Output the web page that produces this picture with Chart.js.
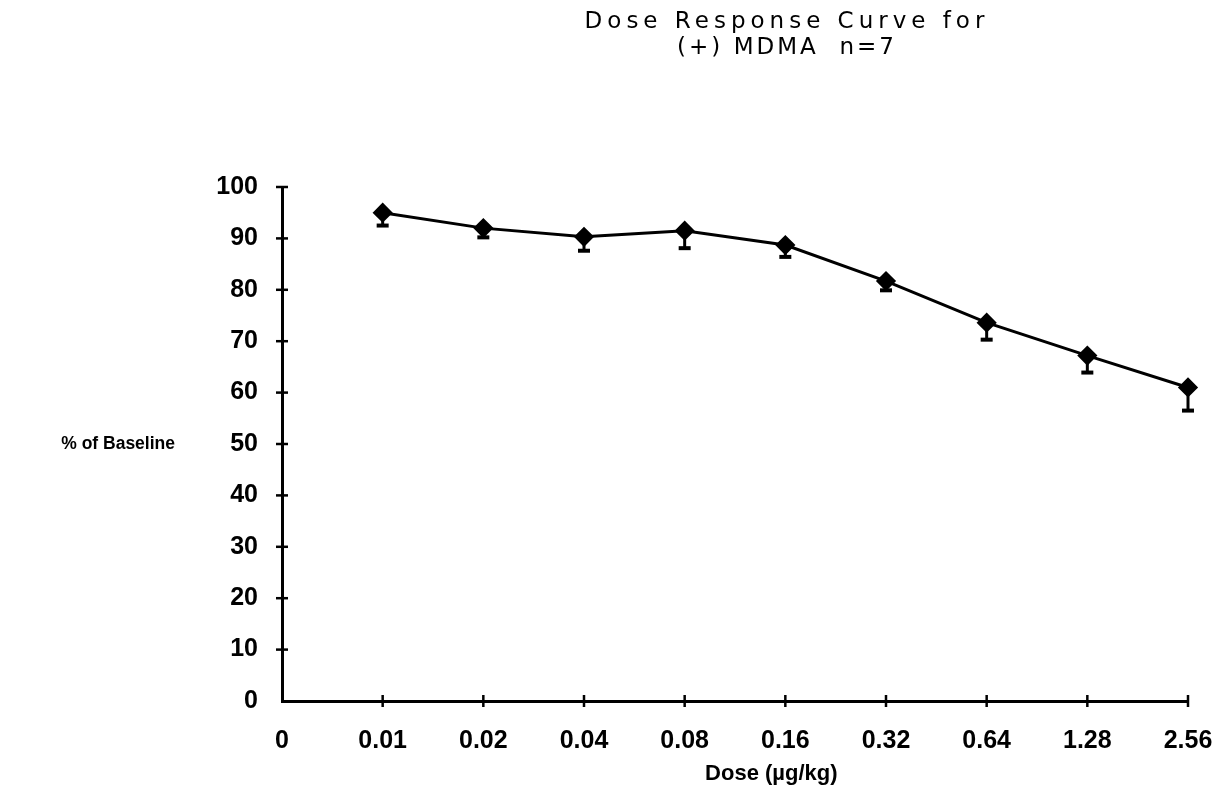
<!DOCTYPE html>
<html>
<head>
<meta charset="utf-8">
<script src="https://cdn.jsdelivr.net/npm/chart.js@4.4.1/dist/chart.umd.min.js"></script>
<style>
    html, body { margin: 0; padding: 0; background: #fff; }
    #wrap { position: relative; width: 1220px; height: 801px; }
    #title {
        position: absolute; left: 487px; width: 600px; top: 7px;
        text-align: center; font-family: "DejaVu Sans", sans-serif;
        font-size: 23px; line-height: 26px; letter-spacing: 5px; color: #000;
    }
    #title .sub { letter-spacing: 3px; }
    canvas { position: absolute; left: 0; top: 0; }
</style>
</head>
<body>
<div id="wrap">
    <canvas id="doseChart" width="1220" height="801"></canvas>
    <div id="title">Dose Response Curve for<br><span class="sub">(+) MDMA&nbsp; n=7</span></div>
</div>
<script>
const doseLabels = ["0", "0.01", "0.02", "0.04", "0.08", "0.16", "0.32", "0.64", "1.28", "2.56"];
const responseValues = [null, 95, 92, 90.3, 91.5, 88.7, 81.7, 73.6, 67.2, 61];
const responseErrors = [null, 2.5, 1.8, 2.7, 3.4, 2.3, 1.8, 3.3, 3.3, 4.5];
const yTicks = [0, 10, 20, 30, 40, 50, 60, 70, 80, 90, 100];

const tickFont = { family: "Liberation Sans", size: 25, weight: "bold" };

// lower error bars, drawn under the markers
const errorBars = {
    id: "errorBars",
    beforeDatasetsDraw(chart) {
        const { ctx, scales: { y } } = chart;
        const meta = chart.getDatasetMeta(0);
        ctx.save();
        ctx.strokeStyle = "#000";
        ctx.lineCap = "butt";
        meta.data.forEach((pt, i) => {
            const v = responseValues[i];
            const e = responseErrors[i];
            if (v == null || e == null) return;
            const low = y.getPixelForValue(v - e);
            ctx.lineWidth = 3;
            ctx.beginPath();
            ctx.moveTo(pt.x, pt.y);
            ctx.lineTo(pt.x, low);
            ctx.stroke();
            ctx.lineWidth = 4;
            ctx.beginPath();
            ctx.moveTo(pt.x - 6, low);
            ctx.lineTo(pt.x + 6, low);
            ctx.stroke();
        });
        ctx.restore();
    },
};

// cross ticks on both axes plus the axis captions
const axisMarks = {
    id: "axisMarks",
    afterDraw(chart) {
        const { ctx, chartArea, scales: { x, y } } = chart;
        ctx.save();
        ctx.strokeStyle = "#000";
        ctx.lineWidth = 2.5;
        yTicks.forEach((t) => {
            const py = y.getPixelForValue(t);
            if (t === 0) return;
            ctx.beginPath();
            ctx.moveTo(chartArea.left - 6, py);
            ctx.lineTo(chartArea.left + 6, py);
            ctx.stroke();
        });
        doseLabels.forEach((lab, i) => {
            if (i === 0) return;
            const px = x.getPixelForValue(i);
            ctx.beginPath();
            ctx.moveTo(px, chartArea.bottom - 6);
            ctx.lineTo(px, chartArea.bottom + 6);
            ctx.stroke();
        });
        ctx.fillStyle = "#000";
        ctx.font = "bold 17.5px 'Liberation Sans'";
        ctx.textAlign = "right";
        ctx.textBaseline = "middle";
        ctx.fillText("% of Baseline", chartArea.left - 107, y.getPixelForValue(50));
        ctx.font = "bold 22px 'Liberation Sans'";
        ctx.textAlign = "center";
        ctx.fillText("Dose (\u00b5g/kg)", x.getPixelForValue(5) - 14, chartArea.bottom + 73);
        ctx.restore();
    },
};

new Chart(document.getElementById("doseChart"), {
    type: "line",
    data: {
        labels: doseLabels,
        datasets: [{
            data: responseValues,
            borderColor: "#000",
            backgroundColor: "#000",
            borderWidth: 3,
            tension: 0,
            pointStyle: "rectRot",
            pointRadius: 8,
            pointBackgroundColor: "#000",
            pointBorderColor: "#000",
        }],
    },
    options: {
        responsive: false,
        animation: false,
        devicePixelRatio: 1,
        layout: { padding: { top: 187, right: 32, left: 0, bottom: 0 } },
        plugins: {
            legend: { display: false },
            tooltip: { enabled: false },
            title: { display: false },
        },
        scales: {
            x: {
                type: "category",
                offset: false,
                grid: { display: false, drawTicks: false },
                border: { display: true, color: "#000", width: 3 },
                ticks: { color: "#000", font: tickFont, padding: 25, maxRotation: 0, autoSkip: false },
                afterFit: (scale) => {
                    scale.height = 100;
                    scale.paddingLeft = 0;
                    scale.paddingRight = 0;
                },
            },
            y: {
                min: 0,
                max: 100,
                grid: { display: false, drawTicks: false },
                border: { display: true, color: "#000", width: 3 },
                afterBuildTicks: (scale) => { scale.ticks = yTicks.map((v) => ({ value: v })); },
                ticks: { color: "#000", font: tickFont, padding: 24 },
                afterFit: (scale) => { scale.width = 282; },
            },
        },
    },
    plugins: [errorBars, axisMarks],
});
</script>
</body>
</html>
